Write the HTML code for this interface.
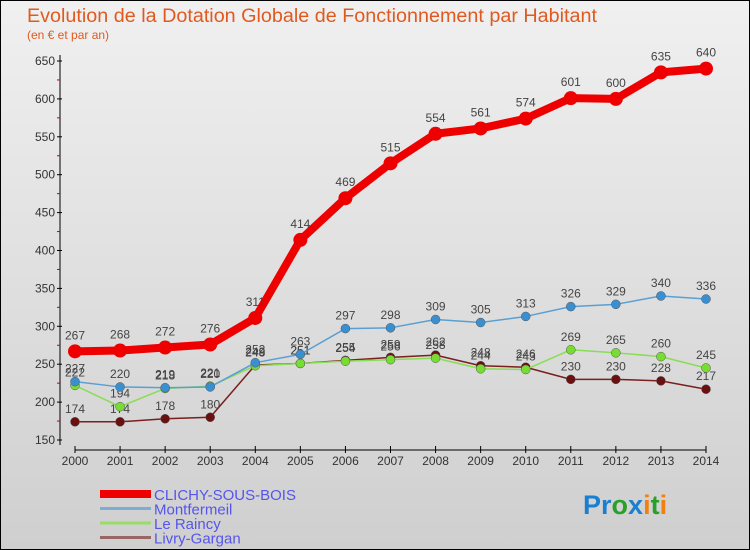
<!DOCTYPE html>
<html><head><meta charset="utf-8">
<style>
body{margin:0;width:750px;height:550px;overflow:hidden;font-family:"Liberation Sans",sans-serif;}
#wrap{position:absolute;left:0;top:0;width:748px;height:548px;border:1px solid #000;background:linear-gradient(#f0f0f0,#cfcfcf);}
</style></head>
<body>
<div id="wrap">
<svg id="chart" width="750" height="550" style="position:absolute;left:-1px;top:-1px">
<text x="27" y="22" font-size="19" fill="#e05a20" textLength="570" lengthAdjust="spacingAndGlyphs">Evolution de la Dotation Globale de Fonctionnement par Habitant</text>
<text x="27" y="39" font-size="12" fill="#e05a20">(en € et par an)</text>
<g id="axes"></g>
<g id="series"></g>
<g id="legend"></g>
<text x="583" y="514" font-size="27" font-weight="bold"><tspan fill="#1a7fd0">Pr</tspan><tspan fill="#2aa02a">o</tspan><tspan fill="#1a7fd0">x</tspan><tspan fill="#f08010">i</tspan><tspan fill="#2aa02a">t</tspan><tspan fill="#f08010">i</tspan></text>
</svg>
</div>
<script>
const years=[2000,2001,2002,2003,2004,2005,2006,2007,2008,2009,2010,2011,2012,2013,2014];
const yTicks=[150,200,250,300,350,400,450,500,550,600,650];
const clichy=[267,268,272,276,311,414,469,515,554,561,574,601,600,635,640];
const montfermeil=[227,220,219,220,252,263,297,298,309,305,313,326,329,340,336];
const raincy=[222,194,218,221,248,251,254,256,258,244,243,269,265,260,245];
const livry=[174,174,178,180,249,251,255,259,262,248,246,230,230,228,217];
const names=["CLICHY-SOUS-BOIS","Montfermeil","Le Raincy","Livry-Gargan"];
const NS="http://www.w3.org/2000/svg";
function X(i){return 75+i*(706-75)/(years.length-1);}
function Y(v){return 440-(v-150)*(440-61)/500;}
function mk(tag,attrs,parent){const e=document.createElementNS(NS,tag);for(const k in attrs)e.setAttribute(k,attrs[k]);parent.appendChild(e);return e;}
const axes=document.getElementById('axes');
let yl=mk('line',{x1:60,x2:60,y1:55,y2:445,stroke:'#000'},axes);


yTicks.forEach((t,k)=>{
  const tl=mk('line',{x1:57,x2:62,y1:Y(t),y2:Y(t),stroke:'#000'},axes);
  
  
  if(k<yTicks.length-1){const m=mk('line',{x1:57,x2:60,y1:Y(t+25),y2:Y(t+25),stroke:'#c00'},axes);
  
  }
  const tx=mk('text',{x:55,y:Y(t)+4,'font-size':12,'text-anchor':'end',fill:'#333'},axes);tx.textContent=t;
  
  
});
let xl=mk('line',{x1:75,x2:706,y1:450,y2:450,stroke:'#000'},axes);


years.forEach((y,i)=>{
  const tl=mk('line',{x1:X(i),x2:X(i),y1:446,y2:453,stroke:'#000'},axes);
  
  
  const tx=mk('text',{x:X(i),y:465,'font-size':12,'text-anchor':'middle',fill:'#333'},axes);tx.textContent=y;
  
  
});
const ser=document.getElementById('series');
const defs=[[clichy,'#ee0000',8,7,'clichy'],[montfermeil,'#5a9fd4',1.5,4.5,'montfermeil'],[raincy,'#88dd55',1.5,4.5,'raincy'],[livry,'#7a1e1e',1.5,4.5,'livry']];
for(let s=defs.length-1;s>=0;s--){
  const [vals,col,w,r,nm]=defs[s];
  const g=mk('g',{},ser);
  
  
  const pl=mk('polyline',{points:vals.map((v,i)=>X(i)+','+Y(v)).join(' '),fill:'none',stroke:col,'stroke-width':w,'stroke-linejoin':'round'},g);
  
  
  vals.forEach((v,i)=>{
    const c=mk('circle',{cx:X(i),cy:Y(v),r:r,fill:s==1?'#3a8fd0':(s==2?'#77dd33':(s==3?'#6a1010':col)),stroke:s==0?'none':'#555','stroke-width':0.5},g);
    
    
    const t=mk('text',{x:X(i),y:Y(v)-(s==0?12:9),'font-size':12,'text-anchor':'middle',fill:'#444'},g);t.textContent=v;
    
    
  });
}
const lg=document.getElementById('legend');
const lcols=['#ee0000','#7aaed6','#99dd66','#996666'];
const lw=[8,3,3,3];
names.forEach((n,k)=>{
  const yy=494+k*14.5;
  const l=mk('line',{x1:100,x2:151,y1:yy,y2:yy,stroke:lcols[k],'stroke-width':lw[k]},lg);
  
  
  const t=mk('text',{x:154,y:yy+6,'font-size':15,fill:'#5555ee'},lg);t.textContent=n;
  
  
});
</script>
</body></html>
